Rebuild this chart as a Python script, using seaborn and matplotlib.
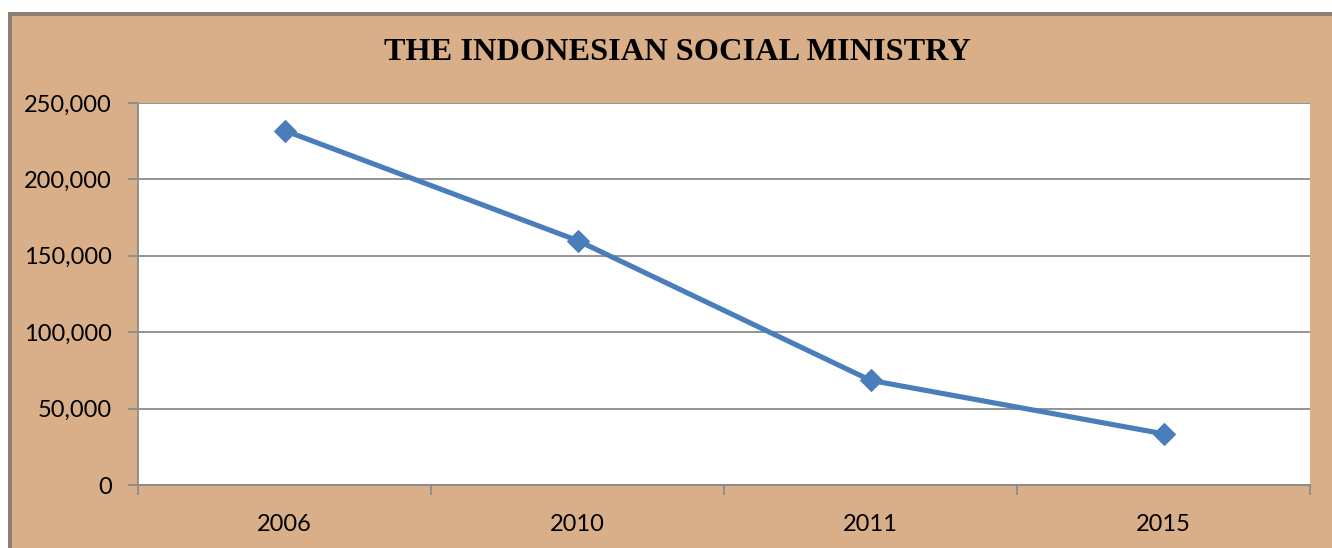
import matplotlib
matplotlib.use("Agg")
import matplotlib.pyplot as plt
import seaborn as sns
import pandas as pd
from matplotlib.patches import Rectangle
from matplotlib.ticker import FuncFormatter, MultipleLocator

years = ["2006", "2010", "2011", "2015"]
values = [232000, 160000, 68500, 33500]
title = "THE INDONESIAN SOCIAL MINISTRY"

sns.set_theme(style="white")
plt.rcParams['font.family'] = ['Lato', 'DejaVu Sans']

df = pd.DataFrame({"year": years, "value": values})

fig = plt.figure(figsize=(13.32, 5.48), dpi=100)
fig.patch.set_facecolor("white")

# outer chart box (tan with grey shadow edge)
shadow = Rectangle((8/1332, 0), 1 - 8/1332, 1 - 12/548, transform=fig.transFigure,
                   facecolor="#8c7f74", edgecolor="none", zorder=-3)
box = Rectangle((12/1332, 0), 1 - 12/1332, 1 - 16/548, transform=fig.transFigure,
                facecolor="#D8AF88", edgecolor="none", zorder=-2)
fig.patches.extend([shadow, box])

ax = fig.add_axes([138/1332, 1 - 485/548, (1310 - 138)/1332, (485 - 103)/548])
ax.set_facecolor("white")

sns.lineplot(data=df, x="year", y="value", ax=ax, sort=False, color="#4A7EBB",
             linewidth=3.7, marker="D", markersize=11.5, markeredgecolor="#4A7EBB")

ax.set_xlim(-0.5, len(years) - 0.5)
ax.set_ylim(0, 250000)
ax.yaxis.set_major_locator(MultipleLocator(50000))
ax.yaxis.set_major_formatter(FuncFormatter(lambda v, p: f"{int(v):,}"))
ax.set_xticks(range(len(years)))
ax.set_xticklabels(years)
ax.set_xlabel("")
ax.set_ylabel("")

ax.grid(axis="y", color="#8a8a8a", linewidth=1.3)
ax.set_axisbelow(True)
for s in ["top", "right"]:
    ax.spines[s].set_visible(False)
for s in ["left", "bottom"]:
    ax.spines[s].set_color("#8a8a8a")
    ax.spines[s].set_linewidth(1.3)

ax.tick_params(axis="y", which="major", length=7, width=1.3, color="#8a8a8a",
               direction="out", left=True, labelsize=17, labelcolor="black", pad=12)
ax.tick_params(axis="x", which="major", length=0, labelsize=17, labelcolor="black", pad=21)
# minor ticks at category boundaries on x axis
ax.set_xticks([i - 0.5 for i in range(len(years) + 1)], minor=True)
ax.tick_params(axis="x", which="minor", length=7, width=1.3, color="#8a8a8a",
               direction="out", bottom=True)

fig.text(677/1332, 1 - 53/548, title, ha="center", va="center", color="black",
         fontsize=23.3, fontweight="bold", family=["Liberation Serif", "DejaVu Serif"])

fig.savefig("out.png", dpi=100)
